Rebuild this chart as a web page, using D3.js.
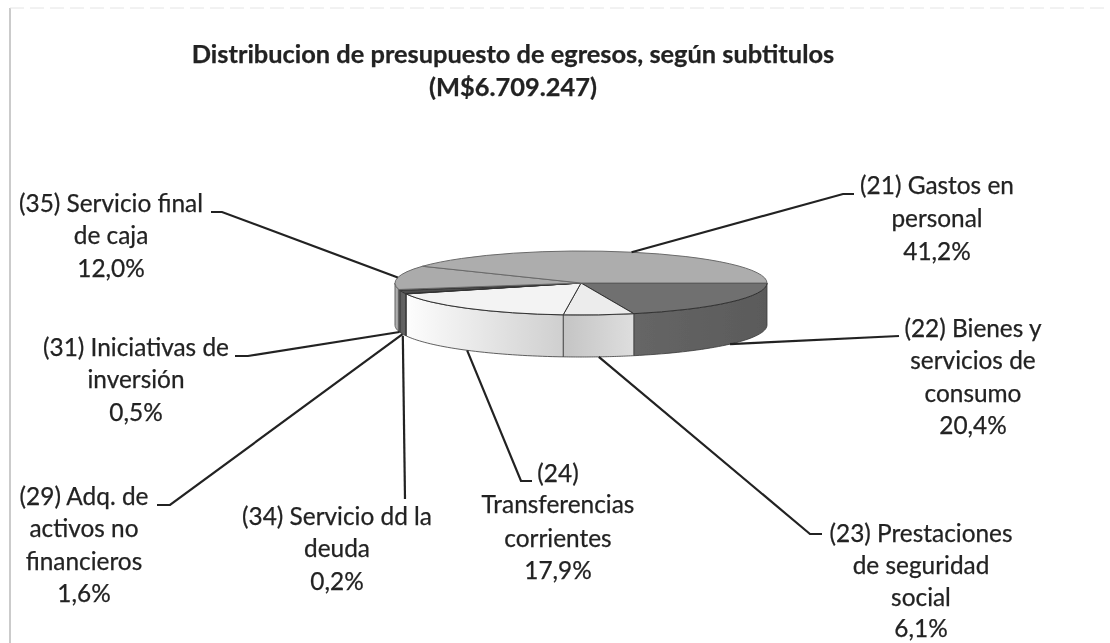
<!DOCTYPE html>
<html><head><meta charset="utf-8">
<script src="https://cdn.jsdelivr.net/npm/d3@7"></script>
<style>html,body{margin:0;background:#fff}svg{display:block}text{font-family:Lato,"Open Sans",sans-serif;fill:#222;stroke:#222;stroke-width:.25px}</style>
</head><body><svg id="c" width="1110" height="643"></svg>
<script>
const titleLines = ["Distribucion de presupuesto de egresos, según subtitulos","(M$6.709.247)"];
const categories = ["(22) Bienes y servicios de consumo","(23) Prestaciones de seguridad social","(24) Transferencias corrientes","(34) Servicio dd la deuda","(29) Adq. de activos no financieros","(31) Iniciativas de inversión","(35) Servicio final de caja","(21) Gastos en personal"];
const values = [20.4,6.1,17.9,0.2,1.6,0.5,12.0,41.2];
const valueLabels = ["20,4%","6,1%","17,9%","0,2%","1,6%","0,5%","12,0%","41,2%"];
const labelLines = [
 ["(22) Bienes y","servicios de","consumo"],
 ["(23) Prestaciones","de seguridad","social"],
 ["(24)","Transferencias","corrientes"],
 ["(34) Servicio dd la","deuda"],
 ["(29) Adq. de","activos no","financieros"],
 ["(31) Iniciativas de","inversión"],
 ["(35) Servicio final","de caja"],
 ["(21) Gastos en","personal"]];
// layout, kept apart from the data
const labelX = [[973,973,973,973],[921,921,921,921],[558,558,558,558],[337,337,337],[84,84,84,84],[136,136,136],[111,111,111],[937,937,937]];
const labelY = [[337,369,402,434],[542,574,606,637],[482,513,547,579],[525,557,590],[505,537,570,602],[356,388,421],[212,244,277],[194,227,260]];
const leaderEnds = [[[899,336]],[[822,534],[810,534]],[[532,481],[521,481]],[[405,499]],[[157,505],[170,505]],[[235,356],[248,356]],[[211,212],[222,212]],[[854,194],[843,194]]];
const topFill = ["#6f6f6f","#ececec","#f3f3f3","#555","#4e4e4e","#777","#ababab","#adadad"];
const wallStops = [["#666","#5a5a5a"],["#c4c4c4","#dedede"],["#fdfdfd","#cfcfcf"],["#555","#555"],["#5c5c5c","#666"],["#777","#777"],["#c2c2c2","#8f8f8f"],["#999","#999"]];
const cx=581, cy=283, rx=186, ry=32, depth=42;

const svg=d3.select("#c");
const defs=svg.append("defs");
defs.append("filter").attr("id","soft").attr("x","-5%").attr("y","-5%").attr("width","110%").attr("height","110%")
  .append("feGaussianBlur").attr("stdDeviation",0.45);
const root=svg.append("g").attr("filter","url(#soft)");

root.append("line").attr("x1",10).attr("x2",10).attr("y1",8).attr("y2",643).attr("stroke","#a8a8a8").attr("stroke-width",1.2);
root.append("line").attr("x1",10).attr("x2",1110).attr("y1",8).attr("y2",8).attr("stroke","#e4e4e4").attr("stroke-dasharray","14 6");

root.selectAll(".title").data(titleLines).join("text").attr("class","title")
  .attr("x",513).attr("y",(d,i)=>63+i*33).attr("text-anchor","middle")
  .attr("font-size",25.4).attr("font-weight",700).text(d=>d);

const pie=d3.pie().sort(null).value(d=>d).startAngle(Math.PI/2).endAngle(Math.PI/2+2*Math.PI);
const arcs=pie(values);
const tAngle=a=>a-Math.PI/2;               // d3 angle -> angle clockwise from 3 o'clock
const px=t=>cx+rx*Math.cos(t), py=t=>cy+ry*Math.sin(t);

// walls
arcs.forEach((a,i)=>{
  const t0=Math.max(tAngle(a.startAngle),0), t1=Math.min(tAngle(a.endAngle),Math.PI);
  if(t1<=t0) return;
  const id="w"+i;
  const g=defs.append("linearGradient").attr("id",id);
  g.append("stop").attr("offset",0).attr("stop-color",wallStops[i][0]);
  g.append("stop").attr("offset",1).attr("stop-color",wallStops[i][1]);
  const ts=d3.range(0,41).map(k=>t0+(t1-t0)*k/40);
  const pts=ts.map(t=>[px(t),py(t)]).concat(ts.slice().reverse().map(t=>[px(t),py(t)+depth]));
  root.append("path").attr("d",d3.line()(pts)+"Z").attr("fill",`url(#${id})`)
    .attr("stroke","#3a3a3a").attr("stroke-width",0.8).attr("stroke-linejoin","round");
});
const arcGen=d3.arc().innerRadius(0).outerRadius(rx);
root.append("g").attr("transform",`translate(${cx},${cy}) scale(1,${ry/rx})`)
  .selectAll("path").data(arcs).join("path").attr("d",arcGen)
  .attr("fill",(d,i)=>topFill[i]).attr("stroke",(d,i)=>i==6||i==7?"#6a6a6a":"#333")
  .attr("stroke-width",1).style("vector-effect","non-scaling-stroke");

// leaders, from each slice's mid-angle to its label
const leaderDx=[0,0,0,-3,0,0,0,0];
arcs.forEach((a,i)=>{
  const t=tAngle((a.startAngle+a.endAngle)/2);
  const front=Math.sin(t)>0 && i!==6;
  const start=[px(t)+leaderDx[i],py(t)+(front?depth:0)];
  root.append("path").attr("d",d3.line()([start,...leaderEnds[i].slice().reverse()]))
    .attr("fill","none").attr("stroke","#222").attr("stroke-width",2.2);
});

// labels
categories.forEach((c,i)=>{
  const lines=labelLines[i].concat(valueLabels[i]);
  root.append("g").selectAll("text").data(lines).join("text")
   .attr("x",(d,k)=>labelX[i][k]).attr("y",(d,k)=>labelY[i][k])
   .attr("text-anchor","middle").attr("font-size",24.4).text(d=>d);
});
</script></body></html>
